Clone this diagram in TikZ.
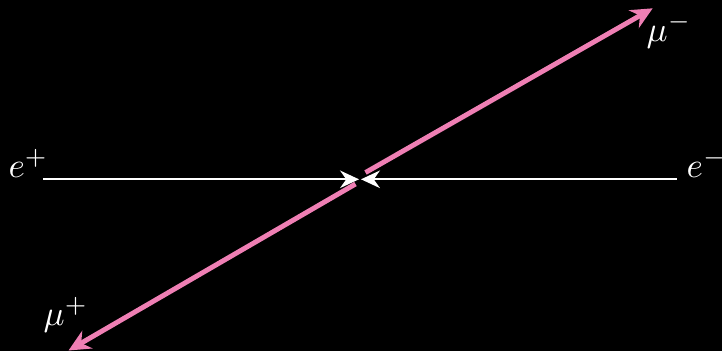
\documentclass[tikz,border=0pt]{standalone}
\usetikzlibrary{arrows.meta}
\definecolor{bgblack}{HTML}{000000}
\definecolor{muonpink}{HTML}{EF7FB4}
\definecolor{beamwhite}{HTML}{FFFFFF}

\begin{document}
\begin{tikzpicture}[x=0.2857pt, y=-0.2857pt,
    beam/.style={draw=beamwhite, line width=0.6pt, -{Stealth[length=5.4pt, width=5pt]}},
    muon/.style={draw=muonpink, line width=1.4pt, -{Stealth[length=6.2pt, width=5.8pt]}},
    lbl/.style={text=beamwhite, inner sep=0pt, anchor=base west}]
  \useasboundingbox (0,0) rectangle (722,351);
  \fill[bgblack] (0,0) rectangle (722,351);
  % labels
  \node[lbl] (eplus) at (8,177) {$e^+$};
  \node[lbl] (eminus) at (686,177) {$e^-$};
  \node[lbl] (muminus) at (646,41) {$\mu^-$};
  \node[lbl] (muplus) at (43,325) {$\mu^+$};
  % incoming beams
  \coordinate (epin) at (43.3,179.3);
  \coordinate (emin) at (676.7,179.3);
  \coordinate (vl) at (359,179.3);
  \coordinate (vr) at (361,179.3);
  \draw[beam] (epin) -- (vl);
  \draw[beam] (emin) -- (vr);
  % outgoing muons
  \coordinate (mmstart) at (365.5,172.5);
  \coordinate (mmend) at (652.7,8.3);
  \coordinate (mpstart) at (355.5,184);
  \coordinate (mpend) at (68.5,350.5);
  \draw[muon] (mmstart) -- (mmend);
  \draw[muon] (mpstart) -- (mpend);
\end{tikzpicture}
\end{document}
